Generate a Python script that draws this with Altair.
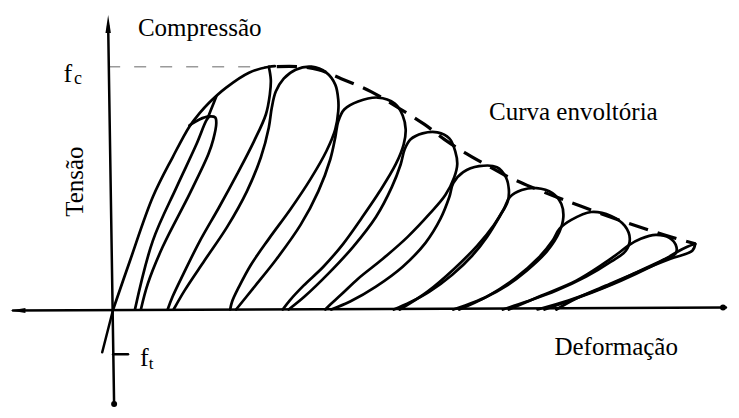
import altair as alt
import pandas as pd

# Strain in per mille (‰), stress in MPa
X_DOMAIN = [-1.05, 6.18]
Y_DOMAIN = [-9.9, 30.3]

ENVELOPE = [(0, 0), (0.17, 4.9), (0.40, 11.3), (0.60, 15.3), (0.77, 18.4), (0.87, 19.7),
            (0.97, 20.8), (1.14, 22.3), (1.37, 23.8), (1.57, 24.4), (1.63, 24.45)]
LOOP1_UNLOAD = [(0.77, 18.5), (0.87, 19.1), (0.97, 19.4), (1.03, 19.3), (1.04, 18.7), (1.01, 17.1),
                (0.96, 15.6), (0.77, 11.6), (0.50, 6.3), (0.35, 2.6), (0.28, 0)]
LOOP1_RELOAD = [(0.22, 0), (0.40, 6.9), (0.64, 12.3), (0.84, 16.6), (0.94, 19.0), (0.97, 19.4)]
LOOP1_LINK = [(0.96, 19.4), (1.00, 20.4), (1.04, 21.4)]
LOOP2_UNLOAD = [(1.57, 24.4), (1.59, 23.1), (1.58, 21.6), (1.54, 19.6), (1.42, 16.9), (1.25, 13.6),
                (1.07, 10.3), (0.87, 6.8), (0.71, 3.6), (0.60, 1.3), (0.55, 0)]
LOOP3 = [(0.61, 0), (0.72, 1.9), (0.92, 4.9), (1.15, 8.3), (1.35, 11.9), (1.49, 15.3), (1.57, 18.3),
         (1.60, 20.3), (1.64, 21.9), (1.72, 23.2), (1.84, 24.1), (2.00, 24.4), (2.15, 23.8),
         (2.24, 22.6), (2.27, 21.1), (2.27, 19.9), (2.24, 18.1), (2.15, 15.9), (1.99, 13.1),
         (1.79, 10.1), (1.57, 7.1), (1.39, 4.5), (1.27, 2.3), (1.20, 0.8), (1.18, 0)]
LOOP4 = [(1.24, 0), (1.41, 2.1), (1.65, 5.1), (1.89, 8.5), (2.07, 11.9), (2.19, 15.1), (2.24, 17.3),
         (2.27, 18.9), (2.33, 20.1), (2.47, 20.9), (2.67, 21.3), (2.84, 20.7), (2.92, 19.5),
         (2.95, 18.1), (2.93, 16.6), (2.85, 14.6), (2.69, 11.9), (2.50, 9.1), (2.32, 6.6),
         (2.12, 4.3), (1.92, 2.4), (1.78, 0.9), (1.71, 0)]
LOOP5 = [(1.77, 0), (1.93, 1.3), (2.17, 3.6), (2.42, 6.3), (2.65, 9.3), (2.81, 12.3), (2.90, 14.6),
         (2.94, 16.1), (3.00, 17.1), (3.12, 17.7), (3.27, 17.8), (3.39, 17.2), (3.45, 15.9),
         (3.47, 14.6), (3.44, 13.3), (3.35, 11.5), (3.19, 9.6), (2.97, 7.3), (2.72, 5.1),
         (2.47, 3.1), (2.30, 1.5), (2.19, 0.5), (2.14, 0)]
LOOP6 = [(2.20, 0), (2.39, 0.8), (2.65, 2.3), (2.92, 4.3), (3.15, 6.7), (3.30, 9.1), (3.39, 11.3),
         (3.43, 12.7), (3.53, 13.8), (3.69, 14.4), (3.87, 14.3), (3.96, 13.3), (3.99, 12.1),
         (3.98, 10.9), (3.90, 9.4), (3.77, 7.3), (3.62, 5.4), (3.42, 3.5), (3.19, 1.8),
         (2.99, 0.7), (2.83, 0)]
LOOP7 = [(2.89, 0), (3.17, 1.8), (3.44, 4.1), (3.67, 6.4), (3.84, 8.5), (3.94, 10.1), (4.00, 11.3),
         (4.12, 12.0), (4.27, 12.2), (4.43, 11.7), (4.52, 10.6), (4.54, 9.3), (4.50, 7.8),
         (4.37, 5.8), (4.17, 3.9), (3.97, 2.4), (3.75, 1.2), (3.55, 0.4), (3.43, 0)]
LOOP8 = [(3.49, 0), (3.77, 1.3), (4.05, 3.1), (4.29, 5.2), (4.43, 6.9), (4.50, 8.1), (4.62, 9.0),
         (4.82, 9.8), (5.02, 9.4), (5.16, 8.4), (5.21, 7.1), (5.17, 5.9), (5.02, 4.8), (4.77, 3.3),
         (4.47, 1.9), (4.17, 0.8), (3.93, 0)]
LOOP9 = [(3.99, 0), (4.32, 1.4), (4.67, 2.9), (4.93, 4.5), (5.10, 5.7), (5.19, 6.4), (5.32, 7.1),
         (5.47, 7.5), (5.61, 7.2), (5.68, 6.3), (5.67, 5.6), (5.55, 5.0), (5.27, 3.7), (4.92, 2.1),
         (4.59, 0.9), (4.28, 0)]
LOOP10_RELOAD = [(4.35, 0), (4.72, 1.3), (5.12, 2.9), (5.42, 4.3), (5.59, 5.2), (5.69, 5.8),
                 (5.79, 6.3), (5.87, 6.6)]
LOOP10_UNLOAD = [(5.87, 6.6), (5.84, 5.9), (5.62, 5.1), (5.32, 3.9), (4.97, 2.4), (4.67, 1.1),
                 (4.47, 0)]
TENSION = [(0, 0), (-0.11, -4.3)]

ENVELOPE_DASHED = [(1.65, 24.4), (1.87, 24.4), (2.07, 24.1), (2.30, 23.2), (2.60, 21.9), (2.87, 20.3),
                   (3.14, 18.6), (3.34, 17.1), (3.54, 15.8), (3.77, 14.5), (3.97, 13.4), (4.17, 12.5),
                   (4.47, 11.3), (4.74, 10.3), (5.07, 9.1), (5.37, 8.1), (5.62, 7.3), (5.87, 6.6)]
FC_LINE = [(-0.05, 24.4), (1.59, 24.4)]

X_AXIS = [(-1.01, -0.1), (6.18, 0.2)]
Y_AXIS = [(-0.05, 28.5), (0.01, -9.6)]
FT_TICK = [(0.0, -4.5), (0.15, -4.5)]

ARROW_LEFT = [(-0.96, -0.1)]
ARROW_UP = [(-0.05, 28.7)]
AXIS_DOTS = [(0.01, -9.5), (6.15, 0.2)]

LABELS = ["Compressão", "Curva envoltória", "Deformação", "f", "c", "f", "t"]
LABEL_EPS = [0.25, 3.79, 4.45, -0.50, -0.395, 0.27, 0.36]
LABEL_SIG = [27.5, 19.0, -4.6, 22.9, 22.65, -5.7, -6.0]
LABEL_SIZE = [25, 25, 25, 26, 18, 26, 17]
ROT_LABEL = ["Tensão"]
ROT_EPS = [-0.30]
ROT_SIG = [12.85]

FONT = "Liberation Serif"


def frame(curves):
    rows = []
    for name, pts in curves.items():
        for i, (e, s) in enumerate(pts):
            rows.append({"curve": name, "i": i, "eps": e, "sig": s})
    return pd.DataFrame(rows)


X = alt.X("eps:Q", scale=alt.Scale(domain=X_DOMAIN, nice=False, zero=False), axis=None)
Y = alt.Y("sig:Q", scale=alt.Scale(domain=Y_DOMAIN, nice=False, zero=False), axis=None)

curves = frame({
    "env": ENVELOPE, "l1u": LOOP1_UNLOAD, "l1r": LOOP1_RELOAD, "l1k": LOOP1_LINK,
    "l2u": LOOP2_UNLOAD, "l3": LOOP3, "l4": LOOP4, "l5": LOOP5, "l6": LOOP6, "l7": LOOP7,
    "l8": LOOP8, "l9": LOOP9, "l10r": LOOP10_RELOAD, "l10u": LOOP10_UNLOAD,
})
axes = frame({"x": X_AXIS, "y": Y_AXIS, "ft": FT_TICK, "tens": TENSION})

curve_layer = alt.Chart(curves).mark_line(
    interpolate="catmull-rom", color="black", strokeWidth=2.7, strokeCap="round", strokeJoin="round"
).encode(X, Y, detail="curve:N", order="i:Q")

dashed_layer = alt.Chart(frame({"d": ENVELOPE_DASHED})).mark_line(
    interpolate="catmull-rom", color="black", strokeWidth=3.2, strokeDash=[20, 10]
).encode(X, Y, detail="curve:N", order="i:Q")

fc_layer = alt.Chart(frame({"fc": FC_LINE})).mark_line(
    color="#9a9a9a", strokeWidth=1.6, strokeDash=[12, 14]
).encode(X, Y, order="i:Q")

axes_layer = alt.Chart(axes).mark_line(
    color="black", strokeWidth=2.5, strokeCap="round"
).encode(X, Y, detail="curve:N", order="i:Q")

arrow_left = alt.Chart(frame({"a": ARROW_LEFT})).mark_point(
    shape="M -1 0 L 1 -0.32 L 1 0.32 Z", filled=True, color="black", opacity=1, size=225
).encode(X, Y)
arrow_up = alt.Chart(frame({"a": ARROW_UP})).mark_point(
    shape="M 0 -1 L 0.3 1 L -0.3 1 Z", filled=True, color="black", opacity=1, size=324
).encode(X, Y)
dots = alt.Chart(frame({"a": AXIS_DOTS})).mark_point(
    shape="circle", filled=True, color="black", opacity=1, size=36
).encode(X, Y)

labels = pd.DataFrame({"label": LABELS, "eps": LABEL_EPS, "sig": LABEL_SIG, "fs": LABEL_SIZE})
text_layer = alt.Chart(labels).mark_text(
    align="left", baseline="alphabetic", font=FONT, color="black"
).encode(X, Y, text="label:N", size=alt.Size("fs:Q", scale=None, legend=None))

rot = pd.DataFrame({"label": ROT_LABEL, "eps": ROT_EPS, "sig": ROT_SIG})
rot_layer = alt.Chart(rot).mark_text(
    align="center", baseline="alphabetic", font=FONT, fontSize=25, angle=270, color="black"
).encode(X, Y, text="label:N")

chart = alt.layer(
    fc_layer, dashed_layer, curve_layer, axes_layer, arrow_left, arrow_up, dots, text_layer, rot_layer
).properties(
    width=723, height=402,
    autosize=alt.AutoSizeParams(type="fit", contains="padding"),
    padding=0,
    background="white",
).configure_view(stroke=None)

chart.save("out.html", embed_options={"renderer": "svg", "actions": False})
